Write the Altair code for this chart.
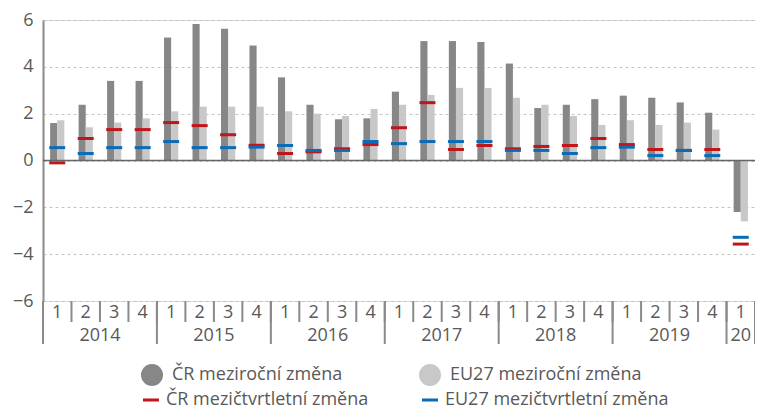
import altair as alt
import pandas as pd

FONT = "Open Sans"
TXT = "#595959"
LINE = "#8a8a8a"

quarters = ["2014-1", "2014-2", "2014-3", "2014-4",
            "2015-1", "2015-2", "2015-3", "2015-4",
            "2016-1", "2016-2", "2016-3", "2016-4",
            "2017-1", "2017-2", "2017-3", "2017-4",
            "2018-1", "2018-2", "2018-3", "2018-4",
            "2019-1", "2019-2", "2019-3", "2019-4",
            "2020-1"]

cz_yoy = [1.60, 2.38, 3.40, 3.40, 5.25, 5.83, 5.63, 4.91, 3.55, 2.38, 1.76, 1.80,
          2.94, 5.10, 5.10, 5.06, 4.14, 2.24, 2.38, 2.62, 2.77, 2.68, 2.48, 2.04, -2.20]
eu_yoy = [1.72, 1.42, 1.62, 1.80, 2.10, 2.30, 2.30, 2.30, 2.10, 2.00, 1.90, 2.20,
          2.38, 2.80, 3.10, 3.10, 2.68, 2.38, 1.90, 1.52, 1.72, 1.52, 1.62, 1.32, -2.60]
cz_qoq = [-0.10, 0.94, 1.32, 1.32, 1.62, 1.49, 1.10, 0.65, 0.30, 0.37, 0.50, 0.68,
          1.40, 2.47, 0.47, 0.64, 0.50, 0.60, 0.64, 0.94, 0.68, 0.47, 0.43, 0.47, -3.57]
eu_qoq = [0.55, 0.30, 0.55, 0.55, 0.81, 0.55, 0.55, 0.57, 0.64, 0.43, 0.43, 0.81,
          0.72, 0.81, 0.81, 0.81, 0.43, 0.43, 0.30, 0.55, 0.57, 0.21, 0.43, 0.21, -3.28]

bar_series = ["ČR meziroční změna", "EU27 meziroční změna"]
bar_colors = ["#878787", "#c8c8c8"]
tick_series = ["ČR mezičtvrtletní změna", "EU27 mezičtvrtletní změna"]
tick_colors = ["#c0161b", "#0a6cb6"]

year_starts = ["2014-1", "2015-1", "2016-1", "2017-1", "2018-1", "2019-1", "2020-1"]
year_labels = ["2014", "2015", "2016", "2017", "2018", "2019"]
year_anchors = ["2014-3", "2015-3", "2016-3", "2017-3", "2018-3", "2019-3"]
last_label = ["20"]
last_anchor = ["2020-1"]

W, H = 712, 281
FS = 18

df_bar = pd.DataFrame({
    "q": quarters * 2,
    "series": [bar_series[0]] * len(quarters) + [bar_series[1]] * len(quarters),
    "value": cz_yoy + eu_yoy,
})
df_tick = pd.DataFrame({
    "q": quarters * 2,
    "series": [tick_series[0]] * len(quarters) + [tick_series[1]] * len(quarters),
    "value": cz_qoq + eu_qoq,
    "o": [0] * len(quarters) + [1] * len(quarters),
})

xscale = alt.Scale(domain=quarters, paddingInner=0, paddingOuter=0)
yscale = alt.Scale(domain=[-6, 6], nice=False)

bars = alt.Chart(df_bar).mark_bar().encode(
    x=alt.X("q:N", scale=xscale, sort=quarters,
            axis=alt.Axis(title=None, labelExpr="split(datum.value, '-')[1]",
                          ticks=False, domain=False, grid=False, labelAngle=0,
                          labelFontSize=FS, labelColor=TXT, labelFont=FONT,
                          labelBaseline="middle", labelPadding=11)),
    xOffset=alt.XOffset("series:N", sort=bar_series,
                        scale=alt.Scale(paddingOuter=1, paddingInner=0)),
    y=alt.Y("value:Q", scale=yscale,
            axis=alt.Axis(title=None, values=[-6, -4, -2, 0, 2, 4, 6], grid=True,
                          gridDash=[3, 3], gridColor="#c4c4c4", gridWidth=1,
                          domain=True, domainColor=LINE, domainWidth=2, ticks=False,
                          labelFontSize=FS, labelColor=TXT, labelFont=FONT,
                          labelPadding=10)),
    color=alt.Color("series:N", scale=alt.Scale(domain=bar_series, range=bar_colors),
                    legend=alt.Legend(title=None, orient="none", legendX=98, legendY=344,
                                      direction="horizontal", columns=2, columnPadding=76,
                                      symbolType="circle", symbolSize=484,
                                      symbolStrokeWidth=0, symbolOpacity=1,
                                      labelFontSize=FS, labelColor=TXT, labelFont=FONT,
                                      labelOffset=9, labelLimit=400)),
)

zero = alt.Chart(pd.DataFrame({"v": [0]})).mark_rule(color="#666666", strokeWidth=1.5).encode(
    y=alt.Y("v:Q", scale=yscale)
)

ticks = alt.Chart(df_tick).mark_tick(thickness=3, size=16, opacity=1).encode(
    x=alt.X("q:N", scale=xscale, sort=quarters),
    y=alt.Y("value:Q", scale=yscale),
    order=alt.Order("o:Q"),
    color=alt.Color("series:N", scale=alt.Scale(domain=tick_series, range=tick_colors),
                    legend=alt.Legend(title=None, orient="none", legendX=99, legendY=371,
                                      direction="horizontal", columns=2, columnPadding=52,
                                      symbolType="M-1,-0.19H1V0.19H-1Z", symbolSize=256,
                                      symbolStrokeWidth=0, symbolOpacity=1,
                                      labelFontSize=FS, labelColor=TXT, labelFont=FONT,
                                      labelOffset=6, labelLimit=400)),
)

qsep = alt.Chart(pd.DataFrame({"q": quarters})).mark_rule(color=LINE, strokeWidth=2).encode(
    x=alt.X("q:N", scale=xscale, sort=quarters, bandPosition=0),
    y=alt.value(H), y2=alt.value(H + 21),
)
ysep = alt.Chart(pd.DataFrame({"q": year_starts})).mark_rule(color=LINE, strokeWidth=2).encode(
    x=alt.X("q:N", scale=xscale, sort=quarters, bandPosition=0),
    y=alt.value(H), y2=alt.value(H + 43),
)
yend = alt.Chart(pd.DataFrame({"q": last_anchor})).mark_rule(color=LINE, strokeWidth=2).encode(
    x=alt.X("q:N", scale=xscale, sort=quarters, bandPosition=1),
    y=alt.value(H), y2=alt.value(H + 43),
)
ylab = alt.Chart(pd.DataFrame({"q": year_anchors, "t": year_labels})).mark_text(
    fontSize=FS, color=TXT, font=FONT, baseline="middle", align="center").encode(
    x=alt.X("q:N", scale=xscale, sort=quarters, bandPosition=0),
    y=alt.value(H + 35), text="t:N",
)
ylab2 = alt.Chart(pd.DataFrame({"q": last_anchor, "t": last_label})).mark_text(
    fontSize=FS, color=TXT, font=FONT, baseline="middle", align="center").encode(
    x=alt.X("q:N", scale=xscale, sort=quarters, bandPosition=0.5),
    y=alt.value(H + 35), text="t:N",
)

chart = alt.layer(bars, zero, ticks, qsep, ysep, yend, ylab, ylab2).resolve_scale(
    color="independent"
).properties(
    width=W, height=H,
    autosize=alt.AutoSizeParams(type="none"),
    padding={"left": 35, "top": 12, "right": 0, "bottom": 111},
).configure_view(stroke=None).configure(background="white")

chart.save("out.html", embed_options={"renderer": "svg", "actions": False})
